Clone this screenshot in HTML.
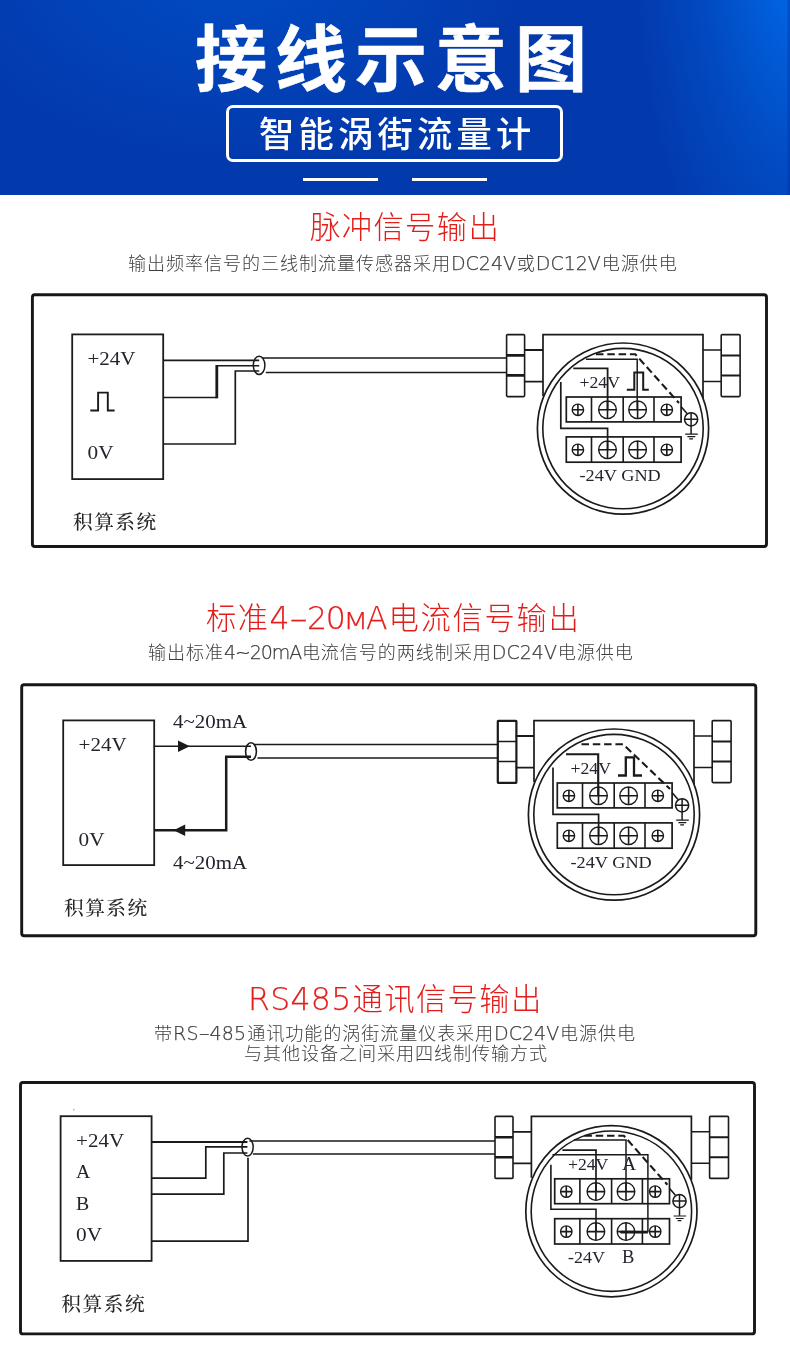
<!DOCTYPE html>
<html lang="zh-CN">
<head>
<meta charset="utf-8">
<title>接线示意图 - 智能涡街流量计</title>
<style>
html,body{margin:0;padding:0;background:#fff;}
body{width:790px;height:1350px;position:relative;overflow:hidden;font-family:"Liberation Sans","Noto Sans CJK SC",sans-serif;}
.hdr{position:absolute;left:0;top:0;width:790px;height:195px;background:
  linear-gradient(to right, rgba(0,40,150,0) 787px, rgba(0,40,150,.35) 788px),
  radial-gradient(ellipse 180px 430px at 812px -80px, rgba(0,116,246,.9) 0, rgba(0,116,246,.72) 22%, rgba(0,116,246,.25) 64%, rgba(0,116,246,0) 100%),
  radial-gradient(ellipse 300px 200px at 230px -40px, rgba(0,90,215,.55), rgba(0,90,215,0) 100%),
  #023aad;}
.h1{position:absolute;margin:0;color:#fff;font-weight:700;-webkit-text-stroke:.6px #fff;font-size:72px;line-height:72px;letter-spacing:8px;white-space:nowrap;}
.pill{position:absolute;left:226px;top:105px;width:330.7px;height:51px;border:3px solid #fff;border-radius:7px;}
.h2{position:absolute;margin:0;color:#fff;font-weight:500;font-size:35.3px;line-height:35px;letter-spacing:4.2px;white-space:nowrap;}
.bar{position:absolute;top:178px;height:3px;width:75px;background:#fff;}
.t{position:absolute;margin:0;color:#e21e1b;font-weight:300;font-size:30.3px;line-height:36px;letter-spacing:1.4px;white-space:nowrap;}
.t .en{font-size:31.5px;letter-spacing:0;margin-right:1px;}
.s{position:absolute;margin:0;color:#3d3d3d;font-weight:300;font-size:18.1px;line-height:20.5px;letter-spacing:.9px;white-space:nowrap;}
.s .en{font-size:19px;letter-spacing:0;margin-right:.8px;}
.en{font-family:"DejaVu Sans","Liberation Sans",sans-serif;font-weight:200;-webkit-text-stroke:.25px currentColor;}
.t,.s,.h1,.h2{will-change:transform;}
.dia{position:absolute;left:0;top:0;}
.sc{font-size:.72em;display:inline-block;transform:scaleX(1.28);margin:0 .6px 0 .2px;}
.hy{display:inline-block;transform:scaleX(1.7);margin:0 .1em;}
</style>
</head>
<body>
<div class="hdr">
  <h1 class="h1" style="left:194.5px;top:24px">接线示意图</h1>
  <div class="pill"></div>
  <p class="h2" style="left:259px;top:116.8px">智能涡街流量计</p>
  <div class="bar" style="left:303px"></div>
  <div class="bar" style="left:412px"></div>
</div>
<svg class="dia" width="790" height="1350" viewBox="0 0 790 1350">
<rect x="32.4" y="294.8" width="734.1" height="251.7" rx="2.5" fill="#fff" stroke="#171717" stroke-width="2.9"/>
<g transform="translate(0,0)" fill="none" stroke="#1a1a1a" stroke-width="1.6">
<rect x="72.2" y="334.4" width="91" height="144.7" stroke-width="1.8" stroke="#1c1c1c"/>
<path d="M163.2 360.3H259.2" stroke-width="1.8"/>
<path d="M163.2 397.5H216.8" stroke-width="1.7"/><path d="M216.8 398.3V365" stroke-width="2.8"/><path d="M216.8 365.7H259.2" stroke-width="1.6"/>
<path d="M163.2 444H235.3V371H259.2" stroke-width="1.7"/>
<ellipse cx="259.1" cy="365.3" rx="5.8" ry="9.1" stroke-width="1.5"/>
<path d="M262 357.9H506.6M265.8 372.5H506.6" stroke-width="1.5"/>
<path d="M90.3 410.5H98.1V392.6H107.8V410.5H114.6" stroke-width="1.9"/>
</g>
<g transform="translate(0,0)" fill="#23242e" font-family="'Liberation Serif', serif" font-size="19.8">
<text x="87.5" y="365.4" textLength="48" lengthAdjust="spacingAndGlyphs">+24V</text>
<text x="87.5" y="459.4" textLength="26" lengthAdjust="spacingAndGlyphs">0V</text>
</g>
<text transform="translate(0,0)" x="72.9" y="528.9" fill="#262626" font-family="'Liberation Serif', 'Noto Serif CJK SC', serif" font-weight="500" font-size="19.7" letter-spacing="1.55">积算系统</text>
<g transform="translate(0,0)" fill="none" stroke="#1a1a1a" stroke-width="1.6">
<rect x="506.6" y="334.6" width="18" height="62" rx="1"/>
<path d="M506.6 355.4H524.6M506.6 375.4H524.6" stroke-width="2.6"/>
<path d="M524.6 350H543M524.6 381.6H543" stroke-width="1.8"/>
<path d="M703 350H721.2M703 381.4H721.2" stroke-width="1.5"/>
<path d="M543 396V334.6H703V398" stroke-width="1.7"/>
<rect x="721.2" y="334.6" width="18.9" height="62" rx="1"/>
<path d="M721.2 355.4H740.1M721.2 375.4H740.1" stroke-width="2"/>
<circle cx="623" cy="428.6" r="85.6" fill="#fff" stroke-width="1.7"/>
<circle cx="623" cy="428.6" r="80.2" stroke-width="1.6"/>
<rect x="566.3" y="397" width="114.8" height="24.9" stroke-width="1.7"/>
<path d="M591.5 397V421.9M623.2 397V421.9M654 397V421.9" stroke-width="1.6"/>
<circle cx="577.9" cy="409.8" r="5.7" stroke-width="1.4"/><path d="M572.2 409.8H583.6M577.9 404.1V415.4" stroke-width="1.5999999999999999"/>
<circle cx="666.8" cy="409.8" r="5.7" stroke-width="1.4"/><path d="M661.1 409.8H672.5M666.8 404.1V415.4" stroke-width="1.5999999999999999"/>
<circle cx="607.5" cy="409.8" r="8.8" stroke-width="1.4"/><path d="M598.7 409.8H616.3M607.5 400.9V418.6" stroke-width="1.5999999999999999"/>
<circle cx="637.6" cy="409.8" r="8.8" stroke-width="1.4"/><path d="M628.8 409.8H646.4M637.6 400.9V418.6" stroke-width="1.5999999999999999"/>
<rect x="566.3" y="436.9" width="114.8" height="25.3" stroke-width="1.7"/>
<path d="M591.5 436.9V462.2M623.2 436.9V462.2M654 436.9V462.2" stroke-width="1.6"/>
<circle cx="577.9" cy="449.8" r="5.7" stroke-width="1.4"/><path d="M572.2 449.8H583.6M577.9 444.1V455.5" stroke-width="1.5999999999999999"/>
<circle cx="666.8" cy="449.8" r="5.7" stroke-width="1.4"/><path d="M661.1 449.8H672.5M666.8 444.1V455.5" stroke-width="1.5999999999999999"/>
<circle cx="607.5" cy="449.8" r="8.8" stroke-width="1.4"/><path d="M598.7 449.8H616.3M607.5 441.0V458.6" stroke-width="1.5999999999999999"/>
<circle cx="637.6" cy="449.8" r="8.8" stroke-width="1.4"/><path d="M628.8 449.8H646.4M637.6 441.0V458.6" stroke-width="1.5999999999999999"/>
<circle cx="691.1" cy="419.3" r="6.6" stroke-width="1.5"/>
<path d="M684.5 419.3H697.7M691.1 412.7V434" stroke-width="1.5"/>
<path d="M685.2 434.2H697.8M687.4 436.7H695.3M689.2 438.9H693" stroke-width="1.2"/>
<path d="M596 354.2H635.3L679 403" stroke-width="2.1" stroke-dasharray="7.5 3.8"/>
<path d="M681 406.5L687 413.5" stroke-width="1.6"/>
<path d="M586 359.2H637.2V409.5" stroke-width="1.5"/>
<path d="M573.3 368.3H607.6V409.5" stroke-width="1.8"/>
<path d="M560.8 382V428.4H607.6V449.7" stroke-width="1.7"/>
<path d="M626.8 389.8H634.3V372.4H643.2V389.8H648.8" stroke-width="2"/>
</g>
<g transform="translate(0,0)" fill="#23242e" font-family="'Liberation Serif', serif" font-size="17">
<text x="579.5" y="388.4" textLength="40.5" lengthAdjust="spacingAndGlyphs">+24V</text>
<text x="579.5" y="481" textLength="81.3" lengthAdjust="spacingAndGlyphs">-24V GND</text>
</g>
<rect x="21.7" y="684.8" width="734.0999999999999" height="251.0" rx="2.5" fill="#fff" stroke="#171717" stroke-width="2.9"/>
<g transform="translate(-9,386)" fill="none" stroke="#1a1a1a" stroke-width="1.6">
<rect x="72.2" y="334.4" width="91" height="144.7" stroke-width="1.8" stroke="#1c1c1c"/>
<path d="M163.2 360.2H260" stroke-width="1.5"/>
<path d="M163.2 444.2H235.2V370.8H260" stroke-width="2.5"/>
<ellipse cx="260" cy="365.5" rx="5.4" ry="8.8" stroke-width="1.6"/>
<path d="M263 358.4H507.5M266.5 372H507.5" stroke-width="1.5"/>
<path d="M187 354.6L198.8 360.2L187 365.9z" fill="#1a1a1a" stroke="none"/>
<path d="M194.2 438.6L182.6 444.2L194.2 449.9z" fill="#1a1a1a" stroke="none"/>
</g>
<g transform="translate(-9,386)" fill="#23242e" font-family="'Liberation Serif', serif" font-size="19.8">
<text x="87.6" y="365" textLength="48" lengthAdjust="spacingAndGlyphs">+24V</text>
<text x="87.6" y="460.3" textLength="26" lengthAdjust="spacingAndGlyphs">0V</text>
<text x="182" y="341.8" textLength="74" lengthAdjust="spacingAndGlyphs">4~20mA</text>
<text x="182" y="482.5" textLength="74" lengthAdjust="spacingAndGlyphs">4~20mA</text>
</g>
<text transform="translate(-9,386)" x="72.9" y="528.9" fill="#262626" font-family="'Liberation Serif', 'Noto Serif CJK SC', serif" font-weight="500" font-size="19.7" letter-spacing="1.55">积算系统</text>
<g transform="translate(-9,386)" fill="none" stroke="#1a1a1a" stroke-width="1.6">
<rect x="506.8" y="334.8" width="18.6" height="62" rx=".5" stroke-width="2.2"/>
<path d="M506.8 355.4H525.4M506.8 375.4H525.4" stroke-width="1.5"/>
<path d="M524.6 350H543M524.6 381.6H543" stroke-width="1.8"/>
<path d="M703 350H721.2M703 381.4H721.2" stroke-width="1.5"/>
<path d="M543 396V334.6H703V398" stroke-width="1.7"/>
<rect x="721.2" y="334.6" width="18.9" height="62" rx="1"/>
<path d="M721.2 355.4H740.1M721.2 375.4H740.1" stroke-width="2"/>
<circle cx="623" cy="428.6" r="85.6" fill="#fff" stroke-width="1.7"/>
<circle cx="623" cy="428.6" r="80.2" stroke-width="1.6"/>
<rect x="566.3" y="397" width="114.8" height="24.9" stroke-width="1.7"/>
<path d="M591.5 397V421.9M623.2 397V421.9M654 397V421.9" stroke-width="1.6"/>
<circle cx="577.9" cy="409.8" r="5.7" stroke-width="1.4"/><path d="M572.2 409.8H583.6M577.9 404.1V415.4" stroke-width="1.5999999999999999"/>
<circle cx="666.8" cy="409.8" r="5.7" stroke-width="1.4"/><path d="M661.1 409.8H672.5M666.8 404.1V415.4" stroke-width="1.5999999999999999"/>
<circle cx="607.5" cy="409.8" r="8.8" stroke-width="1.4"/><path d="M598.7 409.8H616.3M607.5 400.9V418.6" stroke-width="1.5999999999999999"/>
<circle cx="637.6" cy="409.8" r="8.8" stroke-width="1.4"/><path d="M628.8 409.8H646.4M637.6 400.9V418.6" stroke-width="1.5999999999999999"/>
<rect x="566.3" y="436.9" width="114.8" height="25.3" stroke-width="1.7"/>
<path d="M591.5 436.9V462.2M623.2 436.9V462.2M654 436.9V462.2" stroke-width="1.6"/>
<circle cx="577.9" cy="449.8" r="5.7" stroke-width="1.4"/><path d="M572.2 449.8H583.6M577.9 444.1V455.5" stroke-width="1.5999999999999999"/>
<circle cx="666.8" cy="449.8" r="5.7" stroke-width="1.4"/><path d="M661.1 449.8H672.5M666.8 444.1V455.5" stroke-width="1.5999999999999999"/>
<circle cx="607.5" cy="449.8" r="8.8" stroke-width="1.4"/><path d="M598.7 449.8H616.3M607.5 441.0V458.6" stroke-width="1.5999999999999999"/>
<circle cx="637.6" cy="449.8" r="8.8" stroke-width="1.4"/><path d="M628.8 449.8H646.4M637.6 441.0V458.6" stroke-width="1.5999999999999999"/>
<circle cx="691.1" cy="419.3" r="6.6" stroke-width="1.5"/>
<path d="M684.5 419.3H697.7M691.1 412.7V434" stroke-width="1.5"/>
<path d="M685.2 434.2H697.8M687.4 436.7H695.3M689.2 438.9H693" stroke-width="1.2"/>
<path d="M590.5 358.3H632.2L679 403" stroke-width="2.1" stroke-dasharray="7.5 3.8"/>
<path d="M681 406.5L687 413.5" stroke-width="1.6"/>
<path d="M575 368.3H607.2V409.5" stroke-width="2.1"/>
<path d="M562 381.5V428.4H607.6V449.7" stroke-width="1.7"/>
<path d="M627 389.5H634.8V371.3H643V389.5H651" stroke-width="2.3"/>
</g>
<g transform="translate(-9,386)" fill="#23242e" font-family="'Liberation Serif', serif" font-size="17">
<text x="579.5" y="388.4" textLength="40.5" lengthAdjust="spacingAndGlyphs">+24V</text>
<text x="579.5" y="481.6" textLength="81.3" lengthAdjust="spacingAndGlyphs">-24V GND</text>
</g>
<rect x="20.5" y="1082.5" width="734" height="251.4000000000001" rx="2.5" fill="#fff" stroke="#171717" stroke-width="2.9"/>
<g transform="translate(-11.6,781.8)" fill="none" stroke="#1a1a1a" stroke-width="1.6">
<rect x="72.2" y="334.4" width="91" height="144.7" stroke-width="1.8" stroke="#1c1c1c"/>
<path d="M163.2 360.2H259" stroke-width="2"/>
<path d="M163.2 396.3H217.4V365H259" stroke-width="1.7"/>
<path d="M163.2 412.3H235.4V371.2H259" stroke-width="1.7"/>
<path d="M163.2 459.4H259.6V376" stroke-width="1.7"/>
<ellipse cx="259.2" cy="365.3" rx="5.6" ry="8.9" stroke-width="1.5"/>
<path d="M261 359.1H506.6M264.5 372.2H506.6" stroke-width="1.5"/>
</g>
<g transform="translate(-11.6,781.8)" fill="#23242e" font-family="'Liberation Serif', serif" font-size="19.8">
<text x="87.7" y="365.2" textLength="48" lengthAdjust="spacingAndGlyphs">+24V</text>
<text x="87.7" y="396.4">A</text>
<text x="87.7" y="428.3">B</text>
<text x="87.7" y="459.2" textLength="26" lengthAdjust="spacingAndGlyphs">0V</text>
</g>
<text transform="translate(-11.6,781.8)" x="72.9" y="528.9" fill="#262626" font-family="'Liberation Serif', 'Noto Serif CJK SC', serif" font-weight="500" font-size="19.7" letter-spacing="1.55">积算系统</text>
<g transform="translate(-11.6,781.8)" fill="none" stroke="#1a1a1a" stroke-width="1.6">
<rect x="506.6" y="334.6" width="18" height="62" rx="1"/>
<path d="M506.6 355.4H524.6M506.6 375.4H524.6" stroke-width="2.6"/>
<path d="M524.6 350H543M524.6 381.6H543" stroke-width="1.8"/>
<path d="M703 350H721.2M703 381.4H721.2" stroke-width="1.5"/>
<path d="M543 396V334.6H703V398" stroke-width="1.7"/>
<rect x="721.2" y="334.6" width="18.9" height="62" rx="1"/>
<path d="M721.2 355.4H740.1M721.2 375.4H740.1" stroke-width="2"/>
<circle cx="623" cy="429.4" r="85.6" fill="#fff" stroke-width="1.7"/>
<circle cx="623" cy="429.4" r="80.2" stroke-width="1.6"/>
<rect x="566.3" y="397" width="114.8" height="24.9" stroke-width="1.7"/>
<path d="M591.5 397V421.9M623.2 397V421.9M654 397V421.9" stroke-width="1.6"/>
<circle cx="577.9" cy="409.8" r="5.7" stroke-width="1.4"/><path d="M572.2 409.8H583.6M577.9 404.1V415.4" stroke-width="1.5999999999999999"/>
<circle cx="666.8" cy="409.8" r="5.7" stroke-width="1.4"/><path d="M661.1 409.8H672.5M666.8 404.1V415.4" stroke-width="1.5999999999999999"/>
<circle cx="607.5" cy="409.8" r="8.8" stroke-width="1.4"/><path d="M598.7 409.8H616.3M607.5 400.9V418.6" stroke-width="1.5999999999999999"/>
<circle cx="637.6" cy="409.8" r="8.8" stroke-width="1.4"/><path d="M628.8 409.8H646.4M637.6 400.9V418.6" stroke-width="1.5999999999999999"/>
<rect x="566.3" y="436.9" width="114.8" height="25.3" stroke-width="1.7"/>
<path d="M591.5 436.9V462.2M623.2 436.9V462.2M654 436.9V462.2" stroke-width="1.6"/>
<circle cx="577.9" cy="449.8" r="5.7" stroke-width="1.4"/><path d="M572.2 449.8H583.6M577.9 444.1V455.5" stroke-width="1.5999999999999999"/>
<circle cx="666.8" cy="449.8" r="5.7" stroke-width="1.4"/><path d="M661.1 449.8H672.5M666.8 444.1V455.5" stroke-width="1.5999999999999999"/>
<circle cx="607.5" cy="449.8" r="8.8" stroke-width="1.4"/><path d="M598.7 449.8H616.3M607.5 441.0V458.6" stroke-width="1.5999999999999999"/>
<circle cx="637.6" cy="449.8" r="8.8" stroke-width="1.4"/><path d="M628.8 449.8H646.4M637.6 441.0V458.6" stroke-width="1.5999999999999999"/>
<circle cx="691.1" cy="419.3" r="6.6" stroke-width="1.5"/>
<path d="M684.5 419.3H697.7M691.1 412.7V434" stroke-width="1.5"/>
<path d="M685.2 434.2H697.8M687.4 436.7H695.3M689.2 438.9H693" stroke-width="1.2"/>
<path d="M596 354H635.5L679 403" stroke-width="2.1" stroke-dasharray="7.5 3.8"/>
<path d="M681 406.5L687 413.5" stroke-width="1.6"/>
<path d="M585.5 358.3H637.6V409.5" stroke-width="1.5"/>
<path d="M574 368.3H607.6V409.5" stroke-width="1.7"/>
<path d="M562.5 383V427.5H607.6V449.7" stroke-width="1.6"/>
<path d="M564 373H659.5V450.5" stroke-width="1.5"/>
<path d="M632 450.3H659.5" stroke-width="2.8"/>
</g>
<g transform="translate(-11.6,781.8)" fill="#23242e" font-family="'Liberation Serif', serif" font-size="17">
<text x="579.5" y="388.4" textLength="40.5" lengthAdjust="spacingAndGlyphs">+24V</text>
<text x="633.5" y="388.6" font-size="19.5">A</text>
<text x="579.5" y="481.4" textLength="37" lengthAdjust="spacingAndGlyphs">-24V</text>
<text x="633.5" y="481.4" font-size="18.5">B</text>
</g>
<circle cx="73.8" cy="1109.7" r=".8" fill="#999"/>
</svg>
<h2 class="t" style="left:309.5px;top:210.1px">脉冲信号输出</h2>
<p class="s" style="left:128px;top:252.6px">输出频率信号的三线制流量传感器采用<span class="en">DC24V</span>或<span class="en">DC12V</span>电源供电</p>
<h2 class="t" style="left:205.5px;top:599.9px">标准<span class="en">4<span class="hy">-</span>2<span style="margin-left:-1.5px">0</span><span class="sc">M</span>A</span><span style="letter-spacing:1.7px">电流信号输出</span></h2>
<p class="s" style="left:148px;top:642.4px">输出标准<span class="en" style="letter-spacing:-1.1px">4~20mA</span>电流信号的两线制采用<span class="en">DC24V</span>电源供电</p>
<h2 class="t" style="left:247.5px;top:980.7px"><span class="en" style="letter-spacing:.3px">RS485</span>通讯信号输出</h2>
<p class="s" style="left:154px;top:1023px">带<span class="en" style="letter-spacing:.2px">RS<span class="hy">-</span>485</span>通讯功能的涡街流量仪表采用<span class="en">DC24V</span>电源供电</p>
<p class="s" style="left:244px;top:1043.6px">与其他设备之间采用四线制传输方式</p>
</body>
</html>
